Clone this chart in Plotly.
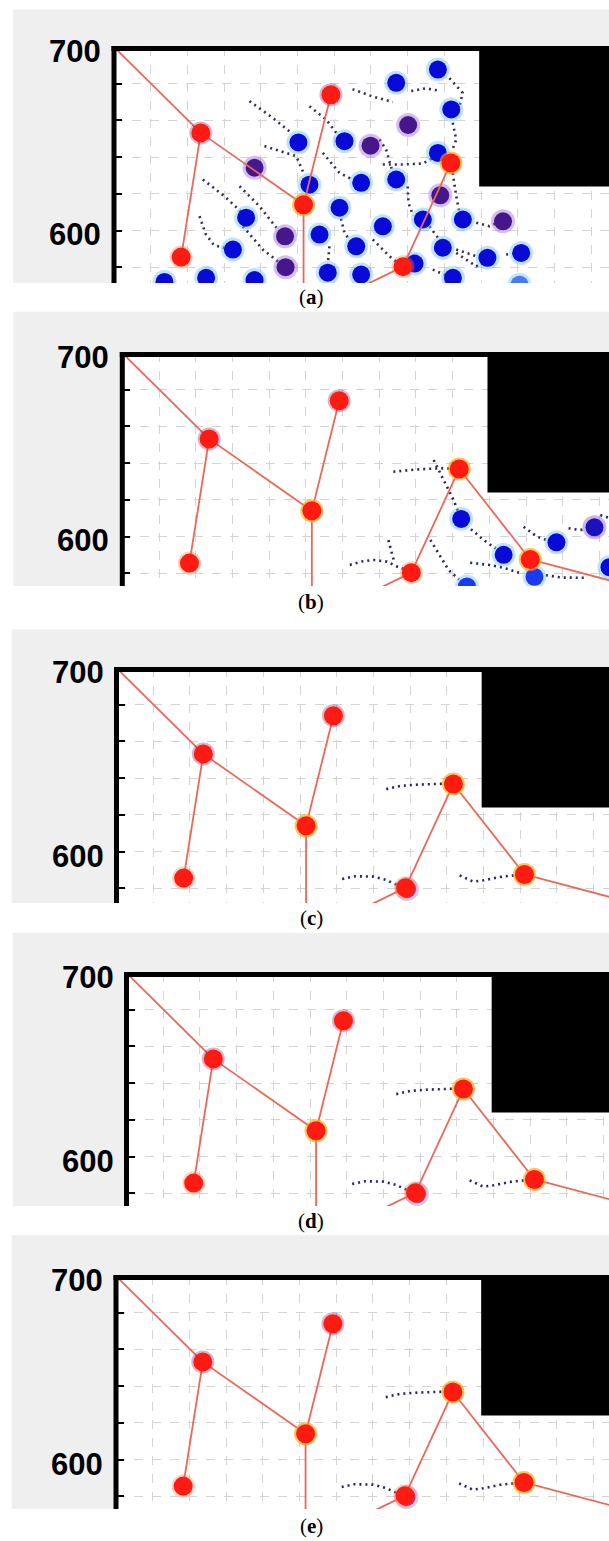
import plotly.graph_objects as go

W, H = 609, 1541
S = 1.835  # pixels per data unit (same on both axes)

# ---------------- data ----------------
node_names = ["root", "A", "B", "C", "D", "E", "F", "G", "Cp", "Fp", "Gc"]
node_x = [0, 47.3, 36.6, 103.3, 118.2, 183.6, 157.5, 222.3, 103.3, 122.0, 300.0]
node_y = [700, 653.2, 585.5, 614.0, 674.0, 636.8, 580.3, 587.5, 530.0, 563.0, 567.0]
edges_full = [("root", "A"), ("A", "B"), ("A", "C"), ("C", "D"), ("C", "Cp"),
              ("F", "Fp"), ("F", "E"), ("E", "G"), ("G", "Gc")]
edges_a = [("root", "A"), ("A", "B"), ("A", "C"), ("C", "D"), ("C", "Cp"),
           ("F", "Fp"), ("F", "E")]
shown_nodes_full = ["A", "B", "C", "D", "E", "F", "G"]
shown_nodes_a = ["A", "B", "C", "D", "E", "F"]

obstacle_x = [199, 400]
obstacle_y = [624, 712]

# panel (a) pedestrians
a_blue_x = [100.5, 106.5, 125.6, 153.8, 176.5, 183.8, 176.5, 134.7, 153.8, 122.9, 168.3,
            190.1, 146.5, 112.0, 132.0, 179.2, 163.8, 116.5, 134.7, 184.7, 203.5, 221.9,
            72.0, 64.8, 27.5, 50.2, 76.6]
a_blue_y = [648.0, 625.0, 648.7, 680.5, 687.7, 666.0, 642.3, 626.0, 627.8, 612.4, 606.0,
            606.0, 602.3, 597.8, 591.4, 590.6, 582.0, 577.0, 576.0, 574.2, 585.1, 587.8,
            607.0, 589.6, 572.0, 574.2, 573.0]
a_light_x = [221.0]
a_light_y = [570.5]
a_purple_x = [76.6, 93.2, 93.5, 139.8, 160.3, 177.8, 212.0]
a_purple_y = [634.2, 596.8, 580.0, 646.2, 657.5, 619.2, 605.0]

a_trails = [
    [(73.8, 670.5), (86.5, 661.4), (97, 653)],
    [(82, 646), (99.3, 640.5), (103, 632)],
    [(48.4, 627.8), (60.2, 618.7), (69, 610.5)],
    [(46.6, 607.8), (50, 598), (54.5, 592), (60, 590.5)],
    [(68.4, 624.1), (79.3, 613.2), (88.5, 601.5)],
    [(70.2, 602.3), (81.1, 589.6), (89.5, 583)],
    [(130, 677), (141, 673), (152, 670)],
    [(162, 676), (170, 677.5), (178, 676)],
    [(182.8, 683), (190, 675), (188.5, 668.5)],
    [(106.5, 667.7), (115.6, 660.5), (122, 652)],
    [(113.8, 642.3), (122.9, 631.4), (130.5, 627.5)],
    [(144.7, 649.6), (148.3, 644.1), (151.5, 633)],
    [(146.5, 636), (158, 636), (168.3, 636.5), (173.5, 639.5)],
    [(160, 624), (160.5, 615), (163, 608)],
    [(122.9, 609.6), (125.6, 598.7), (129.5, 593.5)],
    [(141, 595.1), (150.1, 586), (154.5, 582.5)],
    [(117.4, 591.4), (116.5, 581.5)],
    [(171.9, 602.3), (177.4, 595.1), (178.8, 593)],
    [(186.5, 589.6), (197.4, 586), (200.5, 585.6)],
    [(173.7, 578.7), (181.5, 575.3)],
    [(184.6, 658.7), (186.5, 649.6), (184.8, 645)],
    [(184.6, 631.4), (186.5, 618.7), (188.3, 609.6)],
    [(197.4, 604.2), (204.6, 602.3), (208.5, 604)],
    [(186.5, 587.8), (191.9, 584.2), (197.4, 580.5), (202, 583.5)],
    [(213.7, 586.9), (218.5, 587.5)],
]

# panel (b) pedestrians
b_blue_x = [184.7, 207.8, 236.6, 265.5]
b_blue_y = [609.6, 590.0, 596.8, 583.3]
b_light_x = [224.6, 187.8]
b_light_y = [578.0, 572.8]
b_purple_x = [257.3]
b_purple_y = [605.0]
b_trails = [
    [(169.7, 641.7), (173.3, 634.4), (176, 628.9), (180.5, 619.9), (183.3, 613)],
    [(147.7, 635.3), (160, 636.5), (173.1, 637.2), (180, 637)],
    [(190, 604), (197, 598), (203.5, 593.5)],
    [(167.9, 598.1), (173.3, 589), (177.8, 581.8), (183.5, 576.5)],
    [(189.6, 585.7), (200, 584.5), (207.8, 583), (216.9, 580)],
    [(227.6, 579.3), (240, 577.6), (253, 577.5)],
    [(218.7, 605.3), (226, 599.9), (233.0, 597.4)],
    [(243.2, 604.5), (249.6, 603.5), (254, 604.5)],
    [(260.5, 611.7), (266, 609.9)],
    [(124, 584.5), (130, 586.3), (137, 587.2), (144.3, 586.3), (149.7, 583.6), (155, 581.8)],
    [(145, 598), (146.5, 592), (148, 587)],
]

# panels (c)-(e) pedestrians (hidden under tree nodes) and their trails
ce_trails = [
    [(147, 634), (155, 635.8), (165, 636.5), (176, 637), (181, 637)],
    [(123, 585), (130, 586.5), (140, 586.3), (147, 584.5), (151, 582.6), (155, 581)],
    [(187, 587), (191, 585), (194.4, 583.6), (200, 584.3), (205.3, 585.4), (210, 586.3), (219, 587.2)],
]
ce_under_x = [158.3]
ce_under_y = [579.5]

panel_labels = ["a", "b", "c", "d", "e"]
tick_labels = ["700", "600"]
tick_label_vals = [700, 600]

# ---------------- layout geometry (pixels) ----------------
geom = [
    dict(x0=114.0, y700=47.0, bottom=283.0, gtop=9.5, gleft=13.0, ly=297.0),
    dict(x0=122.3, y700=353.0, bottom=586.0, gtop=311.7, gleft=13.5, ly=602.0),
    dict(x0=116.5, y700=668.0, bottom=903.0, gtop=629.3, gleft=11.7, ly=918.0),
    dict(x0=126.5, y700=973.0, bottom=1206.0, gtop=932.7, gleft=12.8, ly=1221.0),
    dict(x0=116.0, y700=1276.0, bottom=1509.0, gtop=1235.0, gleft=11.7, ly=1526.0),
]

def px(x):
    return x / W

def py(y):
    return 1 - y / H

fig = go.Figure()
shapes = []
annotations = []

EDGE_COLOR = "#e8695b"
TRAIL_A = "#30304a"
TRAIL_B = "#26265e"
idx = dict(zip(node_names, range(len(node_names))))

def add_dots(xs, ys, color, halo, ax, ay, size=18):
    fig.add_trace(go.Scatter(x=xs, y=ys, mode="markers", xaxis=ax, yaxis=ay,
                             marker=dict(size=size + 6, color=halo, line=dict(width=0)),
                             hoverinfo="skip", showlegend=False))
    fig.add_trace(go.Scatter(x=xs, y=ys, mode="markers", xaxis=ax, yaxis=ay,
                             marker=dict(size=size, color=color, line=dict(width=0)),
                             hoverinfo="skip", showlegend=False))

for i, g in enumerate(geom):
    n = i + 1
    ax = "x" if n == 1 else f"x{n}"
    ay = "y" if n == 1 else f"y{n}"
    xmax = (W - g["x0"]) / S
    ybot = 700 - (g["bottom"] - g["y700"]) / S
    axis_common = dict(showgrid=True, gridcolor="#d4d4d4", griddash="dash", gridwidth=1,
                       zeroline=False, showline=False, showticklabels=False,
                       dtick=20, tick0=0, fixedrange=True)
    fig.update_layout(**{
        ("xaxis" if n == 1 else f"xaxis{n}"): dict(
            domain=[px(g["x0"]), 1], range=[0, xmax], ticks="",
            anchor=ay, **axis_common),
        ("yaxis" if n == 1 else f"yaxis{n}"): dict(
            domain=[py(g["bottom"]), py(g["y700"])], range=[ybot, 700],
            ticks="inside", ticklen=8, tickwidth=2, tickcolor="black",
            anchor=ax, **axis_common),
    })
    # gray frame and white plot area
    shapes.append(dict(type="rect", xref="paper", yref="paper", layer="below",
                       x0=px(g["gleft"]), x1=1, y0=py(g["bottom"]), y1=py(g["gtop"]),
                       fillcolor="#efefef", line=dict(width=0)))
    shapes.append(dict(type="rect", xref="paper", yref="paper", layer="below",
                       x0=px(g["x0"]), x1=1, y0=py(g["bottom"]), y1=py(g["y700"]),
                       fillcolor="white", line=dict(width=0)))
    # obstacle
    shapes.append(dict(type="rect", xref=ax, yref=ay, layer="between",
                       x0=obstacle_x[0], x1=obstacle_x[1], y0=obstacle_y[0], y1=obstacle_y[1],
                       fillcolor="black", line=dict(width=0)))
    # thick frame lines
    shapes.append(dict(type="line", xref="paper", yref="paper", layer="above",
                       x0=px(g["x0"] - 2.5), x1=1, y0=py(g["y700"] + 1.5), y1=py(g["y700"] + 1.5),
                       line=dict(color="black", width=5)))
    shapes.append(dict(type="line", xref="paper", yref="paper", layer="above",
                       x0=px(g["x0"]), x1=px(g["x0"]), y0=py(g["bottom"]), y1=py(g["y700"] - 1),
                       line=dict(color="black", width=5)))
    # tick labels
    for t, v in zip(tick_labels, tick_label_vals):
        ypix = g["y700"] + (700 - v) * S + 4.5
        annotations.append(dict(xref="paper", yref="paper", x=px(g["x0"] - 11), y=py(ypix),
                                xanchor="right", yanchor="middle", showarrow=False,
                                text=f"<b>{t}</b>",
                                font=dict(family="Liberation Sans, Arial", size=31, color="black")))
    annotations.append(dict(xref="paper", yref="paper", x=px(311), y=py(g["ly"]),
                            xanchor="center", yanchor="middle", showarrow=False,
                            text=f"(<b>{panel_labels[i]}</b>)",
                            font=dict(family="Liberation Serif, Times New Roman", size=21, color="black")))

    # trails
    if i == 0:
        trails, tcol = a_trails, TRAIL_A
    elif i == 1:
        trails, tcol = b_trails, TRAIL_B
    else:
        trails, tcol = ce_trails, TRAIL_B
    tx, ty = [], []
    for tr in trails:
        tx += [p[0] for p in tr] + [None]
        ty += [p[1] for p in tr] + [None]
    fig.add_trace(go.Scatter(x=tx, y=ty, mode="lines", xaxis=ax, yaxis=ay,
                             line=dict(color=tcol, width=2.6, dash="2px,4px"),
                             hoverinfo="skip", showlegend=False))

    # pedestrians
    if i == 0:
        add_dots(a_light_x, a_light_y, "#4a78f0", "rgba(120,200,255,0.45)", ax, ay)
        add_dots(a_blue_x, a_blue_y, "#0a0ad8", "rgba(110,190,255,0.45)", ax, ay)
        add_dots(a_purple_x, a_purple_y, "#45168c", "rgba(150,90,210,0.40)", ax, ay)
    elif i == 1:
        add_dots(b_light_x, b_light_y, "#1a3af0", "rgba(120,200,255,0.45)", ax, ay)
        add_dots(b_blue_x, b_blue_y, "#0a0ad8", "rgba(110,190,255,0.45)", ax, ay)
        add_dots(b_purple_x, b_purple_y, "#1a10c0", "rgba(150,90,210,0.45)", ax, ay)
    else:
        add_dots(ce_under_x, ce_under_y, "#5a2a9a", "rgba(140,110,220,0.4)", ax, ay)

    # tree edges
    edges = edges_a if i == 0 else edges_full
    ex, ey = [], []
    for u, v in edges:
        ex += [node_x[idx[u]], node_x[idx[v]], None]
        ey += [node_y[idx[u]], node_y[idx[v]], None]
    fig.add_trace(go.Scatter(x=ex, y=ey, mode="lines", xaxis=ax, yaxis=ay,
                             line=dict(color=EDGE_COLOR, width=1.8),
                             hoverinfo="skip", showlegend=False))
    # tree nodes
    shown = shown_nodes_a if i == 0 else shown_nodes_full
    nx = [node_x[idx[k]] for k in shown]
    ny = [node_y[idx[k]] for k in shown]
    halo = [("rgba(255,165,0,0.65)" if k in ("C", "E", "G") else
             "rgba(150,40,110,0.35)" if k in ("A", "D") else
             "rgba(255,120,60,0.35)") for k in shown]
    fig.add_trace(go.Scatter(x=nx, y=ny, mode="markers", xaxis=ax, yaxis=ay,
                             marker=dict(size=23, color=halo, line=dict(width=0)),
                             hoverinfo="skip", showlegend=False))
    fig.add_trace(go.Scatter(x=nx, y=ny, mode="markers", xaxis=ax, yaxis=ay,
                             marker=dict(size=19, color="#ff1a12", line=dict(width=0)),
                             hoverinfo="skip", showlegend=False))

fig.update_layout(width=W, height=H, margin=dict(l=0, r=0, t=0, b=0),
                  paper_bgcolor="white", plot_bgcolor="white",
                  shapes=shapes, annotations=annotations, showlegend=False)
fig.write_html("out.html", config={"displayModeBar": False, "staticPlot": True},
               post_script="document.body.style.margin='0px';document.body.style.overflow='hidden';")
